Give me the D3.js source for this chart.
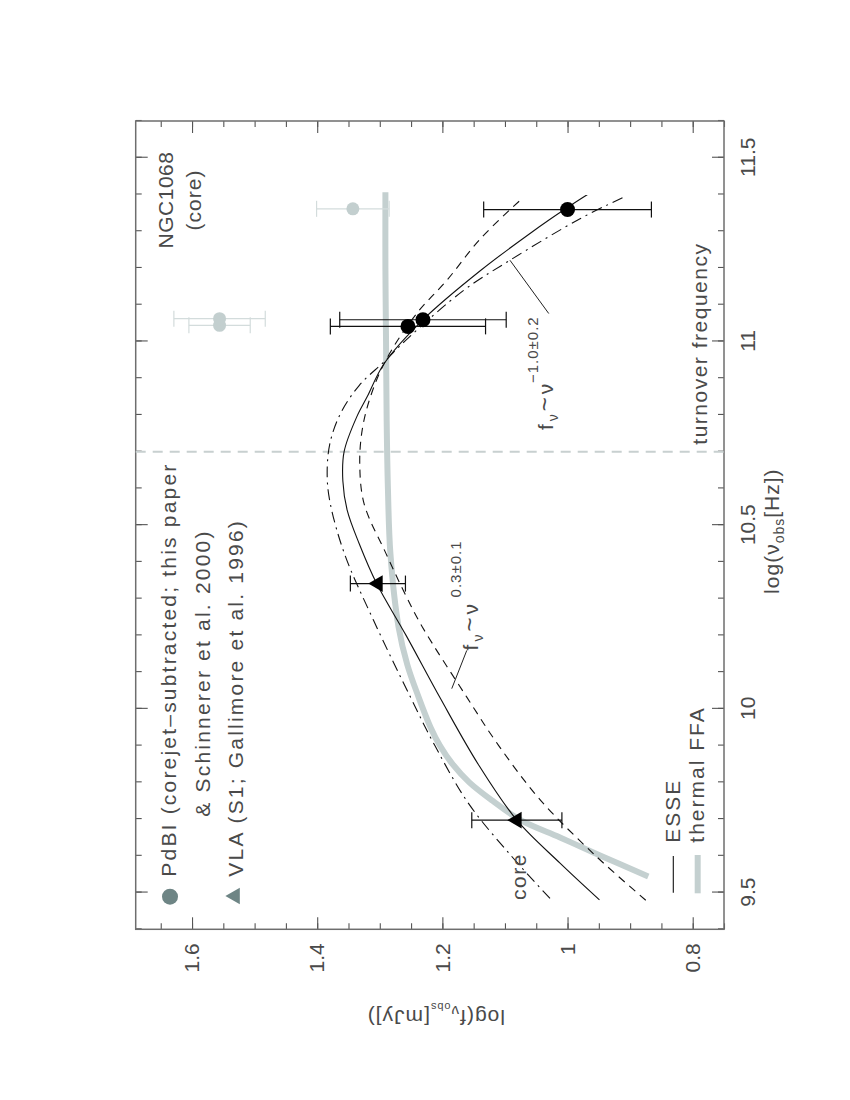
<!DOCTYPE html>
<html>
<head>
<meta charset="utf-8">
<script src="https://cdn.jsdelivr.net/npm/d3@7"></script>
<style>
  body { margin: 0; background: #fff; }
  text { font-family: "Liberation Sans", Arial, sans-serif; fill: #4a4a4a; }
</style>
</head>
<body>
<script>
// axis ticks
var nuTicks = [9.5, 10, 10.5, 11, 11.5];
var nuLabels = ["9.5", "10", "10.5", "11", "11.5"];
var fTicks = [0.8, 1, 1.2, 1.4, 1.6];
var fLabels = ["0.8", "1", "1.2", "1.4", "1.6"];

// PdBI core-jet subtracted (black) and total (grey)
var pdbiNu = [11.041, 11.059, 11.359];
var pdbiF = [1.255, 1.231, 1.000];
var pdbiErr = [0.124, 0.133, 0.134];
var totNu = [11.044, 11.062, 11.361];
var totF = [1.556, 1.556, 1.343];
var totErr = [0.049, 0.073, 0.058];

// VLA S1
var vlaNu = [9.697, 10.341];
var vlaF = [1.081, 1.303];
var vlaErr = [0.072, 0.044];

// ESSE fit
var esseNu = [9.48, 9.58, 9.697, 9.85, 10.028, 10.2, 10.341, 10.45, 10.54, 10.62, 10.7, 10.794, 10.85, 10.94, 11.059, 11.193, 11.30, 11.359, 11.40];
var esseF = [0.949, 1.012, 1.081, 1.143, 1.203, 1.258, 1.305, 1.333, 1.352, 1.359, 1.357, 1.337, 1.320, 1.293, 1.231, 1.139, 1.055, 1.005, 0.968];
// bounding fits
var hiNu = [9.484, 9.60, 9.742, 9.9, 10.032, 10.241, 10.42, 10.558, 10.631, 10.72, 10.803, 10.88, 10.945, 11.012, 11.139, 11.221, 11.334, 11.393];
var hiF = [1.028, 1.09, 1.158, 1.212, 1.251, 1.31, 1.356, 1.379, 1.384, 1.38, 1.363, 1.333, 1.293, 1.253, 1.166, 1.092, 0.980, 0.910];
var loNu = [9.479, 9.6, 9.751, 9.9, 10.032, 10.223, 10.314, 10.4225, 10.558, 10.667, 10.76, 10.849, 10.95, 11.076, 11.166, 11.28, 11.393];
var loF = [0.875, 0.955, 1.043, 1.11, 1.161, 1.232, 1.26, 1.29, 1.325, 1.332, 1.328, 1.315, 1.29, 1.241, 1.193, 1.139, 1.070];
// thermal free-free absorption
var ffaNu = [9.544, 9.601, 9.65, 9.697, 9.75, 9.8, 9.85, 9.9, 9.95, 10.032, 10.12, 10.223, 10.422, 10.6, 10.785, 11.0, 11.2, 11.406];
var ffaF = [0.871, 0.948, 1.012, 1.075, 1.12, 1.157, 1.184, 1.204, 1.219, 1.238, 1.256, 1.270, 1.283, 1.287, 1.289, 1.290, 1.291, 1.291];

var turnover = 10.7;

// chart is drawn in landscape, then turned on the page
var W = 808.3, H = 588.3;

var svg = d3.select("body").append("svg")
    .attr("width", 850)
    .attr("height", 1100);

var g = svg.append("g")
    .attr("transform", "translate(135.7,929.3) rotate(-90)");

var x = d3.scaleLinear().domain([9.4, 11.6]).range([0, W]);
var y = d3.scaleLinear().domain([0.75, 1.69]).range([H, 0]);

var nuMinor = d3.range(94, 117).map(function(d) { return d / 10; });
var fMinor = d3.range(15, 34).map(function(d) { return d / 20; });

function styleAxis(sel) {
  sel.attr("color", "#555").attr("font-size", 21)
     .attr("font-family", "Liberation Sans, Arial, sans-serif");
  sel.select(".domain").remove();
  sel.selectAll("line").attr("stroke-width", 1.1);
  sel.selectAll("text").attr("fill", "#4a4a4a");
}

// minor ticks
g.append("g").attr("transform", "translate(0," + H + ")")
    .call(d3.axisBottom(x).tickValues(nuMinor).tickSize(-6).tickFormat(""))
    .call(styleAxis);
g.append("g")
    .call(d3.axisTop(x).tickValues(nuMinor).tickSize(-6).tickFormat(""))
    .call(styleAxis);
g.append("g")
    .call(d3.axisLeft(y).tickValues(fMinor).tickSize(-6).tickFormat(""))
    .call(styleAxis);
g.append("g").attr("transform", "translate(" + W + ",0)")
    .call(d3.axisRight(y).tickValues(fMinor).tickSize(-6).tickFormat(""))
    .call(styleAxis);

// major ticks
g.append("g").attr("transform", "translate(0," + H + ")")
    .call(d3.axisBottom(x).tickValues(nuTicks).tickSize(-12).tickPadding(16)
      .tickFormat(function(d, i) { return nuLabels[i]; }))
    .call(styleAxis);
g.append("g")
    .call(d3.axisTop(x).tickValues(nuTicks).tickSize(-12).tickFormat(""))
    .call(styleAxis);
g.append("g")
    .call(d3.axisLeft(y).tickValues(fTicks).tickSize(-12).tickPadding(14)
      .tickFormat(function(d, i) { return fLabels[i]; }))
    .call(styleAxis);
g.append("g").attr("transform", "translate(" + W + ",0)")
    .call(d3.axisRight(y).tickValues(fTicks).tickSize(-12).tickFormat(""))
    .call(styleAxis);

// frame
g.append("rect")
    .attr("width", W).attr("height", H)
    .attr("fill", "none")
    .attr("stroke", "#6e6e6e")
    .attr("stroke-width", 1.5);

// axis titles
var xt = g.append("text")
    .attr("x", W / 2 - 6).attr("y", H + 55)
    .attr("text-anchor", "middle")
    .attr("font-size", 21)
    .style("letter-spacing", "1px");
xt.append("tspan").text("log(\u03bd");
xt.append("tspan").attr("font-size", 14).attr("dy", 5).text("obs");
xt.append("tspan").attr("dy", -5).text("[Hz])");

var yt = g.append("text")
    .attr("transform", "translate(-80.7," + (H / 2 + 6) + ") rotate(-90)")
    .attr("text-anchor", "middle")
    .attr("font-size", 21)
    .style("letter-spacing", "1px");
yt.append("tspan").text("log(f");
yt.append("tspan").attr("font-size", 15).attr("dy", 4).text("\u03bd");
yt.append("tspan").attr("font-size", 11).attr("dy", 3).text("obs");
yt.append("tspan").attr("dy", -7).text("[mJy])");

// turnover frequency
g.append("line")
    .attr("x1", x(turnover)).attr("x2", x(turnover))
    .attr("y1", 0).attr("y2", H)
    .attr("stroke", "#c8d0d0")
    .attr("stroke-width", 2)
    .attr("stroke-dasharray", "10,7");

g.append("text")
    .attr("x", x(turnover) + 7).attr("y", H - 17)
    .attr("font-size", 21)
    .style("letter-spacing", "1.5px")
    .text("turnover frequency");

// curves
var line = d3.line()
    .x(function(d) { return x(d[0]); })
    .y(function(d) { return y(d[1]); })
    .curve(d3.curveCatmullRom.alpha(0.5));

function pairs(a, b) { return a.map(function(v, i) { return [v, b[i]]; }); }

g.append("path")
    .attr("d", line(pairs(ffaNu, ffaF)))
    .attr("fill", "none")
    .attr("stroke", "#c4d0d0")
    .attr("stroke-width", 6);

g.append("path")
    .attr("d", line(pairs(esseNu, esseF)))
    .attr("fill", "none")
    .attr("stroke", "#111")
    .attr("stroke-width", 1.1);

g.append("path")
    .attr("d", line(pairs(hiNu, hiF)))
    .attr("fill", "none")
    .attr("stroke", "#111")
    .attr("stroke-width", 1.1)
    .attr("stroke-dasharray", "11,5,2,5");

g.append("path")
    .attr("d", line(pairs(loNu, loF)))
    .attr("fill", "none")
    .attr("stroke", "#111")
    .attr("stroke-width", 1.1)
    .attr("stroke-dasharray", "8,6");

// error bars
function errorBars(nu, f, err, colour) {
  var eb = g.append("g").attr("stroke", colour).attr("stroke-width", 1.2);
  nu.forEach(function(v, i) {
    eb.append("line")
        .attr("x1", x(v)).attr("x2", x(v))
        .attr("y1", y(f[i] - err[i])).attr("y2", y(f[i] + err[i]));
    [f[i] - err[i], f[i] + err[i]].forEach(function(e) {
      eb.append("line")
          .attr("x1", x(v) - 8).attr("x2", x(v) + 8)
          .attr("y1", y(e)).attr("y2", y(e));
    });
  });
}

errorBars(totNu, totF, totErr, "#d3dcdc");
g.selectAll(".tot").data(totNu).enter().append("circle")
    .attr("cx", function(d) { return x(d); })
    .attr("cy", function(d, i) { return y(totF[i]); })
    .attr("r", 6.5)
    .attr("fill", "#c3cfcf");

errorBars(pdbiNu, pdbiF, pdbiErr, "#111");
g.selectAll(".pdbi").data(pdbiNu).enter().append("circle")
    .attr("cx", function(d) { return x(d); })
    .attr("cy", function(d, i) { return y(pdbiF[i]); })
    .attr("r", 7.5)
    .attr("fill", "#000");

errorBars(vlaNu, vlaF, vlaErr, "#111");
var tri = d3.symbol().type(d3.symbolTriangle).size(120);
g.selectAll(".vla").data(vlaNu).enter().append("path")
    .attr("d", tri)
    .attr("transform", function(d, i) { return "translate(" + x(d) + "," + y(vlaF[i]) + ")"; })
    .attr("fill", "#000");

// power-law annotations
function annotate(from, to, at, sup, supDx, supDy) {
  g.append("line")
      .attr("x1", x(from[0])).attr("y1", y(from[1]))
      .attr("x2", x(to[0])).attr("y2", y(to[1]))
      .attr("stroke", "#222").attr("stroke-width", 1);
  var t = g.append("text")
      .attr("transform", "translate(" + x(at[0]) + "," + y(at[1]) + ")")
      .attr("font-size", 21)
      .style("letter-spacing", "3px");
  t.append("tspan").attr("x", 0).text("f");
  t.append("tspan").attr("font-size", 14).attr("dy", 5).text("\u03bd");
  t.append("tspan").attr("dy", -5).attr("font-size", 24).text("~");
  t.append("tspan").text("\u03bd");
  t.append("tspan").attr("x", supDx).attr("dy", -supDy)
      .attr("font-size", 15).style("letter-spacing", "1px").text(sup);
}
annotate([10.055, 1.185], [10.159, 1.161], [10.159, 1.143], "0.3\u00b10.1", 53, 16.6);
annotate([11.221, 1.092], [11.076, 1.030], [10.759, 1.023], "\u22121.0\u00b10.2", 47, 14.7);

// labels inside the frame
g.append("text")
    .attr("x", W - 79).attr("y", 37.6)
    .attr("text-anchor", "middle")
    .attr("font-size", 21)
    .style("letter-spacing", "0.5px")
    .text("NGC1068");
g.append("text")
    .attr("x", W - 79).attr("y", 65.5)
    .attr("text-anchor", "middle")
    .attr("font-size", 21)
    .style("letter-spacing", "1px")
    .text("(core)");

g.append("text")
    .attr("x", x(9.48)).attr("y", y(1.066))
    .attr("font-size", 21)
    .style("letter-spacing", "1.5px")
    .text("core");

// legend, data symbols
var legendColour = "#6e8585";
g.append("circle").attr("cx", 32.6).attr("cy", 34.3).attr("r", 8).attr("fill", legendColour);
g.append("path").attr("d", tri).attr("transform", "translate(33.3,99.3)").attr("fill", legendColour);

var legendText = [
  { x: 52.6, y: 40.3, t: "PdBI (corejet\u2013subtracted; this paper" },
  { x: 112.6, y: 74.3, t: "& Schinnerer et al. 2000)" },
  { x: 52.6, y: 107, t: "VLA (S1; Gallimore et al. 1996)" }
];
g.selectAll(".leg").data(legendText).enter().append("text")
    .attr("x", function(d) { return d.x; })
    .attr("y", function(d) { return d.y; })
    .attr("font-size", 21)
    .style("letter-spacing", "2.2px")
    .text(function(d) { return d.t; });

// legend, models
g.append("line").attr("x1", 36.6).attr("x2", 73.3).attr("y1", 537.6).attr("y2", 537.6)
    .attr("stroke", "#111").attr("stroke-width", 1.1);
g.append("line").attr("x1", 36).attr("x2", 74.3).attr("y1", 562).attr("y2", 562)
    .attr("stroke", "#c4d0d0").attr("stroke-width", 6);
g.append("text").attr("x", 86.6).attr("y", 544.3).attr("font-size", 21)
    .style("letter-spacing", "2px").text("ESSE");
g.append("text").attr("x", 86.6).attr("y", 568.3).attr("font-size", 21)
    .style("letter-spacing", "2px").text("thermal FFA");
</script>
</body>
</html>
